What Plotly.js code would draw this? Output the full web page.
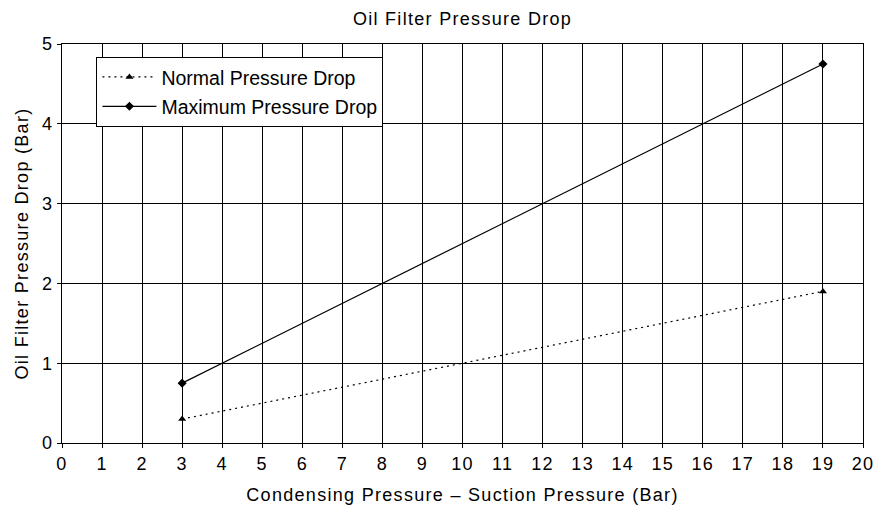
<!DOCTYPE html>
<html><head><meta charset="utf-8">
<script src="https://cdn.plot.ly/plotly-3.0.1.min.js"></script>
<style>body{margin:0;background:#fff}#c{width:894px;height:510px}
#c svg text{letter-spacing:1.3px}
#c svg .legend text{letter-spacing:0}</style>
</head><body><div id="c"></div>
<script>
var xVals = [3, 19];
var normalDrop = [0.3, 1.9];
var maxDrop = [0.75, 4.75];
var seriesNames = ["Normal Pressure Drop", "Maximum Pressure Drop"];

var traces = [
  {x: xVals, y: normalDrop, name: seriesNames[0], legendgroup: 'a', type: 'scatter', mode: 'lines+markers',
   line: {color: '#000', width: 1.2, dash: '2px,4px'}, marker: {symbol: 'triangle-up', size: 7, color: '#000'}},
  {x: xVals, y: maxDrop, name: seriesNames[1], legendgroup: 'b', type: 'scatter', mode: 'lines+markers',
   line: {color: '#000', width: 1.2}, marker: {symbol: 'diamond', size: 7, color: '#000'}}
];
var F = 'Liberation Sans, Arial, sans-serif';
var FS = 18;
var layout = {
  width: 894, height: 510,
  margin: {l: 62, r: 31, t: 44, b: 67},
  paper_bgcolor: '#fff', plot_bgcolor: '#fff',
  font: {family: F, size: FS, color: '#000'},
  title: {text: 'Oil Filter Pressure Drop', font: {family: F, size: FS, color: '#000'}, x: 0.5, xanchor: 'center', xref: 'paper', y: 0.963, yanchor: 'middle'},
  xaxis: {range: [0, 20], dtick: 1, tick0: 0, showgrid: true, gridcolor: '#000', gridwidth: 1,
    showline: true, linecolor: '#000', linewidth: 1, mirror: true, ticks: 'outside', ticklen: 4, tickcolor: '#000',
    zeroline: false, tickfont: {size: FS},
    title: {text: 'Condensing Pressure – Suction Pressure (Bar)', font: {size: FS}, standoff: 15}},
  yaxis: {range: [0, 5], dtick: 1, showgrid: true, gridcolor: '#000', gridwidth: 1,
    showline: true, linecolor: '#000', linewidth: 1, mirror: true, ticks: 'outside', ticklen: 4, tickcolor: '#000',
    zeroline: false, tickfont: {size: FS},
    title: {text: 'Oil Filter Pressure Drop (Bar)', font: {size: FS}, standoff: 10}},
  showlegend: true,
  legend: {x: 0.043, y: 0.968, xanchor: 'left', yanchor: 'top', bgcolor: '#fff', bordercolor: '#000', borderwidth: 1,
    font: {size: 19.5}, traceorder: 'grouped', tracegroupgap: 1, itemwidth: 54}
};
Plotly.newPlot('c', traces, layout, {displayModeBar: false, staticPlot: true});
</script></body></html>
